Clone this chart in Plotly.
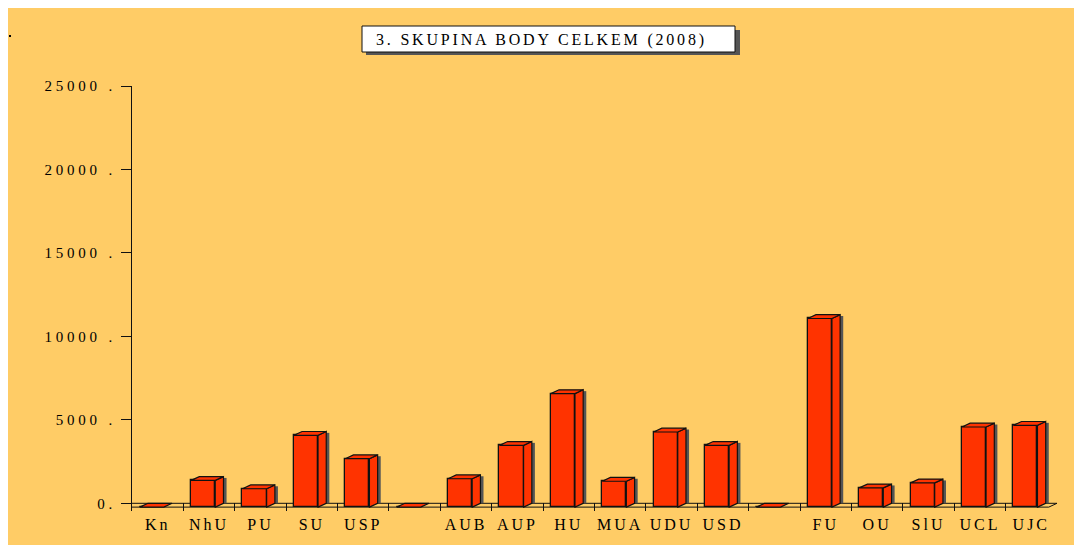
import plotly.graph_objects as go

# ---- data ----
categories = ["Kn", "NhU", "PU", "SU", "USP", "", "AUB", "AUP", "HU", "MUA",
              "UDU", "USD", "", "FU", "OU", "SlU", "UCL", "UJC"]
values = [0, 1600, 1100, 4300, 2900, 0, 1700, 3700, 6800, 1550,
          4500, 3700, 0, 11300, 1150, 1450, 4800, 4900]
y_ticks = [0, 5000, 10000, 15000, 20000, 25000]
y_ticktext = ["0.", "5000 .", "10000 .", "15000 .", "20000 .", "25000 ."]
title_text = "3. SKUPINA BODY CELKEM (2008)"

# ---- style ----
BG = "#FFCC66"
RED = "#FF3300"
EDGE = "#111111"
SHADOW = "#555555"
FONT = "Liberation Serif"
TXT = "#000000"

# pseudo-3D geometry (category units / value units)
F_LEFT, F_RIGHT = -0.35, 0.12
DX = 0.16
DY = 228
SH_W = 0.06

# page offset (body margin) and plot area in screen pixels
OFF = 8
FW, FH = 1082, 545
L, R, T, B = 132, 1057, 86, 511
W, H = R - L, B - T


def px_x(p):
    return (p - L) / W


def px_y(p):
    return 1 - (p - T) / H


xs = list(range(len(categories)))

fig = go.Figure()
fig.add_trace(go.Bar(
    x=xs, y=values, base=[-DY] * len(values),
    width=F_RIGHT - F_LEFT, offset=F_LEFT,
    marker=dict(color=RED, line=dict(color=EDGE, width=1.3)),
    hoverinfo="skip", showlegend=False,
))

shapes = []
# tiny dot top-left
shapes.append(dict(type="rect", xref="paper", yref="paper", x0=px_x(9), x1=px_x(11),
                   y0=px_y(37), y1=px_y(35), fillcolor="black", line=dict(width=0), layer="above"))

# floor
n = len(categories)
x_lo, x_hi = -0.5, n - 0.5
floor_path = (f"M {x_lo},0 L {x_hi},0 L {x_hi - DX},{-DY} L {x_lo - DX},{-DY} Z")
shapes.append(dict(type="path", xref="x", yref="y", path=floor_path,
                   line=dict(color=EDGE, width=1), fillcolor="rgba(0,0,0,0)", layer="below"))

for i, v in zip(xs, values):
    xl = i + F_LEFT
    xr = i + F_RIGHT
    if v > 0:
        shapes.append(dict(type="rect", xref="x", yref="y",
                           x0=xr + DX, x1=xr + DX + SH_W, y0=0, y1=max(v - 80, 0),
                           fillcolor=SHADOW, line=dict(width=0), layer="above"))
        side = f"M {xr},{-DY} L {xr + DX},0 L {xr + DX},{v} L {xr},{v - DY} Z"
        shapes.append(dict(type="path", xref="x", yref="y", path=side,
                           fillcolor=RED, line=dict(color=EDGE, width=1.2), layer="above"))
    top = f"M {xl},{v - DY} L {xl + DX},{v} L {xr + DX},{v} L {xr},{v - DY} Z"
    shapes.append(dict(type="path", xref="x", yref="y", path=top,
                       fillcolor=RED, line=dict(color=EDGE, width=1.2), layer="above"))

# title box with shadow
shapes.append(dict(type="rect", xref="paper", yref="paper",
                   x0=px_x(366), x1=px_x(740), y0=px_y(55), y1=px_y(30),
                   fillcolor=SHADOW, line=dict(width=0), layer="above"))
shapes.append(dict(type="rect", xref="paper", yref="paper",
                   x0=px_x(362), x1=px_x(735), y0=px_y(52), y1=px_y(26),
                   fillcolor="white", line=dict(color=EDGE, width=1), layer="above"))


def spaced(t, s):
    return f'<span style="letter-spacing:{s}px">{t}</span>'


fig.update_layout(
    width=FW, height=FH,
    margin=dict(l=L - OFF, r=FW - (R - OFF), t=T - OFF, b=FH - (B - OFF), pad=0),
    paper_bgcolor=BG, plot_bgcolor="rgba(0,0,0,0)",
    shapes=shapes,
    showlegend=False,
    bargap=0,
    annotations=[dict(
        xref="paper", yref="paper", x=px_x(541), y=px_y(40),
        text=spaced(title_text, 2.8), showarrow=False,
        font=dict(family=FONT, size=16, color=TXT),
        xanchor="center", yanchor="middle",
    )],
    xaxis=dict(
        range=[x_lo, x_hi], showgrid=False, zeroline=False, showline=False,
        tickmode="array", tickvals=xs,
        ticktext=[spaced(c, 3) for c in categories],
        ticks="", tickfont=dict(family=FONT, size=16, color=TXT),
        ticklabelstandoff=2,
        minor=dict(tickmode="array", tickvals=[i + 0.5 for i in range(n - 1)],
                   ticks="inside", ticklen=8, tickcolor=EDGE, tickwidth=1, showgrid=False),
        fixedrange=True,
    ),
    yaxis=dict(
        range=[25000 - (25000 / (503.3 - T)) * H, 25000],
        showgrid=False, zeroline=False, showline=True, linecolor=EDGE, linewidth=1,
        tickmode="array", tickvals=y_ticks,
        ticktext=[spaced(t, 3.8) for t in y_ticktext],
        ticks="outside", ticklen=10, tickcolor=EDGE, tickwidth=1,
        tickfont=dict(family=FONT, size=15, color=TXT),
        ticklabelstandoff=2,
        fixedrange=True,
    ),
)

fig.write_html("out.html")
